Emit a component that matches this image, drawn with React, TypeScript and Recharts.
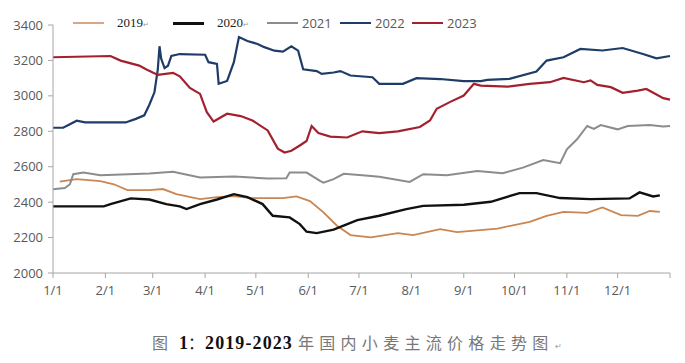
import { LineChart, Line, XAxis, YAxis } from "recharts";

// day of year -> price (yuan/ton)
const wheat2019 = [
  [4, 2516], [14, 2530], [28, 2519], [36, 2501], [44, 2468], [57, 2468], [65, 2474],
  [73, 2445], [87, 2417], [97, 2428], [107, 2434], [117, 2423], [136, 2423], [144, 2432],
  [152, 2406], [160, 2342], [168, 2267], [176, 2214], [188, 2201], [204, 2225], [213, 2214],
  [229, 2248], [239, 2231], [263, 2251], [282, 2289], [292, 2323], [302, 2345], [316, 2339],
  [325, 2370], [336, 2327], [346, 2323], [353, 2350], [359, 2345],
];
const wheat2020 = [
  [0, 2376], [30, 2376], [34, 2389], [46, 2421], [57, 2415], [67, 2389], [75, 2376],
  [79, 2361], [87, 2389], [97, 2415], [107, 2445], [115, 2428], [124, 2389], [130, 2323],
  [140, 2314], [146, 2276], [150, 2233], [156, 2225], [166, 2245], [180, 2299], [193, 2323],
  [209, 2361], [219, 2379], [243, 2385], [259, 2402], [276, 2451], [286, 2451], [300, 2423],
  [318, 2417], [341, 2421], [347, 2455], [355, 2432], [359, 2438],
];
const wheat2021 = [
  [0, 2473], [7, 2480], [10, 2501], [12, 2558], [18, 2567], [28, 2552], [57, 2562],
  [71, 2571], [87, 2539], [107, 2545], [127, 2533], [138, 2535], [140, 2567], [150, 2567],
  [158, 2520], [160, 2510], [166, 2530], [172, 2560], [183, 2552], [193, 2543], [211, 2514],
  [219, 2558], [233, 2552], [251, 2576], [266, 2563], [278, 2595], [290, 2638], [300, 2620],
  [304, 2698], [310, 2755], [316, 2830], [320, 2813], [324, 2835], [334, 2811], [340, 2830],
  [353, 2836], [361, 2827], [365, 2830],
];
const wheat2022 = [
  [0, 2820], [6, 2820], [10, 2840], [14, 2860], [19, 2850], [43, 2850], [49, 2870],
  [54, 2890], [57, 2950], [60, 3020], [62, 3150], [63, 3280], [64, 3210], [66, 3157],
  [68, 3170], [70, 3225], [75, 3236], [90, 3232], [92, 3190], [97, 3180], [98, 3068],
  [103, 3084], [107, 3190], [110, 3332], [115, 3310], [121, 3293], [125, 3275], [131, 3255],
  [136, 3250], [141, 3280], [145, 3255], [148, 3150], [156, 3140], [159, 3124], [166, 3132],
  [170, 3140], [176, 3115], [189, 3105], [193, 3068], [207, 3068], [215, 3100], [229, 3095],
  [243, 3083], [253, 3083], [257, 3090], [270, 3096], [286, 3137], [292, 3199], [302, 3218],
  [312, 3265], [325, 3256], [337, 3270], [349, 3236], [357, 3212], [365, 3225],
];
const wheat2023 = [
  [0, 3218], [34, 3225], [40, 3199], [51, 3171], [55, 3150], [62, 3118], [71, 3130],
  [75, 3110], [81, 3045], [87, 3011], [91, 2908], [95, 2855], [103, 2899], [111, 2886],
  [118, 2861], [127, 2805], [133, 2702], [137, 2680], [141, 2690], [146, 2720], [150, 2745],
  [153, 2830], [157, 2790], [164, 2770], [174, 2765], [183, 2800], [193, 2790], [204, 2800],
  [217, 2824], [223, 2861], [227, 2927], [235, 2966], [243, 3002], [249, 3068], [253, 3058],
  [269, 3052], [282, 3068], [294, 3077], [302, 3101], [314, 3077], [318, 3087], [322, 3062],
  [330, 3049], [337, 3017], [346, 3030], [351, 3039], [361, 2987], [365, 2979],
];

const years = ["2019", "2020", "2021", "2022", "2023"];
const monthTicks = [0, 31, 59, 90, 120, 151, 181, 212, 243, 273, 304, 334, 365];
const monthLabels = ["1/1", "2/1", "3/1", "4/1", "5/1", "6/1", "7/1", "8/1", "9/1", "10/1", "11/1", "12/1", ""];
const priceTicks = [2000, 2200, 2400, 2600, 2800, 3000, 3200, 3400];

const seriesData = [wheat2019, wheat2020, wheat2021, wheat2022, wheat2023].map((s) =>
  s.map(([day, price]) => ({ day, price }))
);

const lineStyle = [
  { stroke: "#c98652", width: 1.8, legend: "#dba684" },
  { stroke: "#111111", width: 2.4, legend: "#111111" },
  { stroke: "#8c8c8c", width: 2, legend: "#8c8c8c" },
  { stroke: "#1f3c68", width: 2.2, legend: "#1f3c68" },
  { stroke: "#a3202e", width: 2.2, legend: "#a3202e" },
];
const legendX = [73, 173, 267, 340, 412];
const serifLegend = [true, true, false, false, false];

const axisColor = "#a6a6a6";
const tickStyle = { fill: "#595959", fontSize: 13, fontFamily: "'Open Sans', sans-serif" };

function Legend() {
  return (
    <>
      {years.map((y, i) => (
        <div
          key={y}
          style={{
            position: "absolute",
            left: legendX[i],
            top: 14,
            height: 18,
            display: "flex",
            alignItems: "center",
            whiteSpace: "nowrap",
          }}
        >
          <div
            style={{
              width: 31,
              height: i === 1 ? 3 : 2.5,
              background: lineStyle[i].legend,
              marginRight: serifLegend[i] ? 13 : 4,
            }}
          />
          {serifLegend[i] ? (
            <span style={{ fontFamily: "'Liberation Serif', serif", fontSize: 13, color: "#222" }}>
              {y}
              <span style={{ fontSize: 7, color: "#999" }}>↵</span>
            </span>
          ) : (
            <span style={{ fontFamily: "'Open Sans', sans-serif", fontSize: 13, color: "#595959" }}>{y}</span>
          )}
        </div>
      ))}
    </>
  );
}

export default function App() {
  return (
    <div style={{ position: "absolute", left: 0, top: 0, width: 685, height: 363, background: "#fff" }}>
      <LineChart width={685} height={310} margin={{ top: 25, right: 15, bottom: 0, left: 0 }}>
        <XAxis
          type="number"
          dataKey="day"
          domain={[0, 365]}
          ticks={monthTicks}
          tickFormatter={(v: number) => monthLabels[monthTicks.indexOf(v)]}
          interval={0}
          height={37}
          tickSize={5}
          tickMargin={8}
          stroke={axisColor}
          tick={tickStyle}
          allowDuplicatedCategory={false}
        />
        <YAxis
          type="number"
          domain={[2000, 3400]}
          ticks={priceTicks}
          interval={0}
          width={53}
          tickSize={5}
          tickMargin={5}
          stroke={axisColor}
          tick={tickStyle}
        />
        {years.map((y, i) => (
          <Line
            key={y}
            data={seriesData[i]}
            dataKey="price"
            name={y}
            type="linear"
            stroke={lineStyle[i].stroke}
            strokeWidth={lineStyle[i].width}
            dot={false}
            activeDot={false}
            isAnimationActive={false}
          />
        ))}
      </LineChart>
      <Legend />
      <div
        style={{
          position: "absolute",
          left: 152,
          top: 330,
          whiteSpace: "nowrap",
          display: "flex",
          alignItems: "baseline",
        }}
      >
        <span style={{ fontFamily: "'Noto Sans CJK SC'", fontSize: 16, color: "#777", marginRight: 11 }}>图</span>
        <span style={{ fontFamily: "'Liberation Serif', serif", fontSize: 18, fontWeight: 700, color: "#111" }}>1</span>
        <span style={{ fontFamily: "'Noto Sans CJK SC'", fontSize: 16, color: "#222", marginRight: 1 }}>：</span>
        <span style={{ fontFamily: "'Liberation Serif', serif", fontSize: 18, fontWeight: 700, color: "#111", letterSpacing: 1.1, marginRight: 5 }}>
          2019-2023
        </span>
        <span style={{ fontFamily: "'Noto Sans CJK SC'", fontSize: 16, color: "#777", letterSpacing: 5.3 }}>
          年国内小麦主流价格走势图
        </span>
        <span style={{ fontSize: 8, color: "#999", marginLeft: 1 }}>↵</span>
      </div>
    </div>
  );
}
